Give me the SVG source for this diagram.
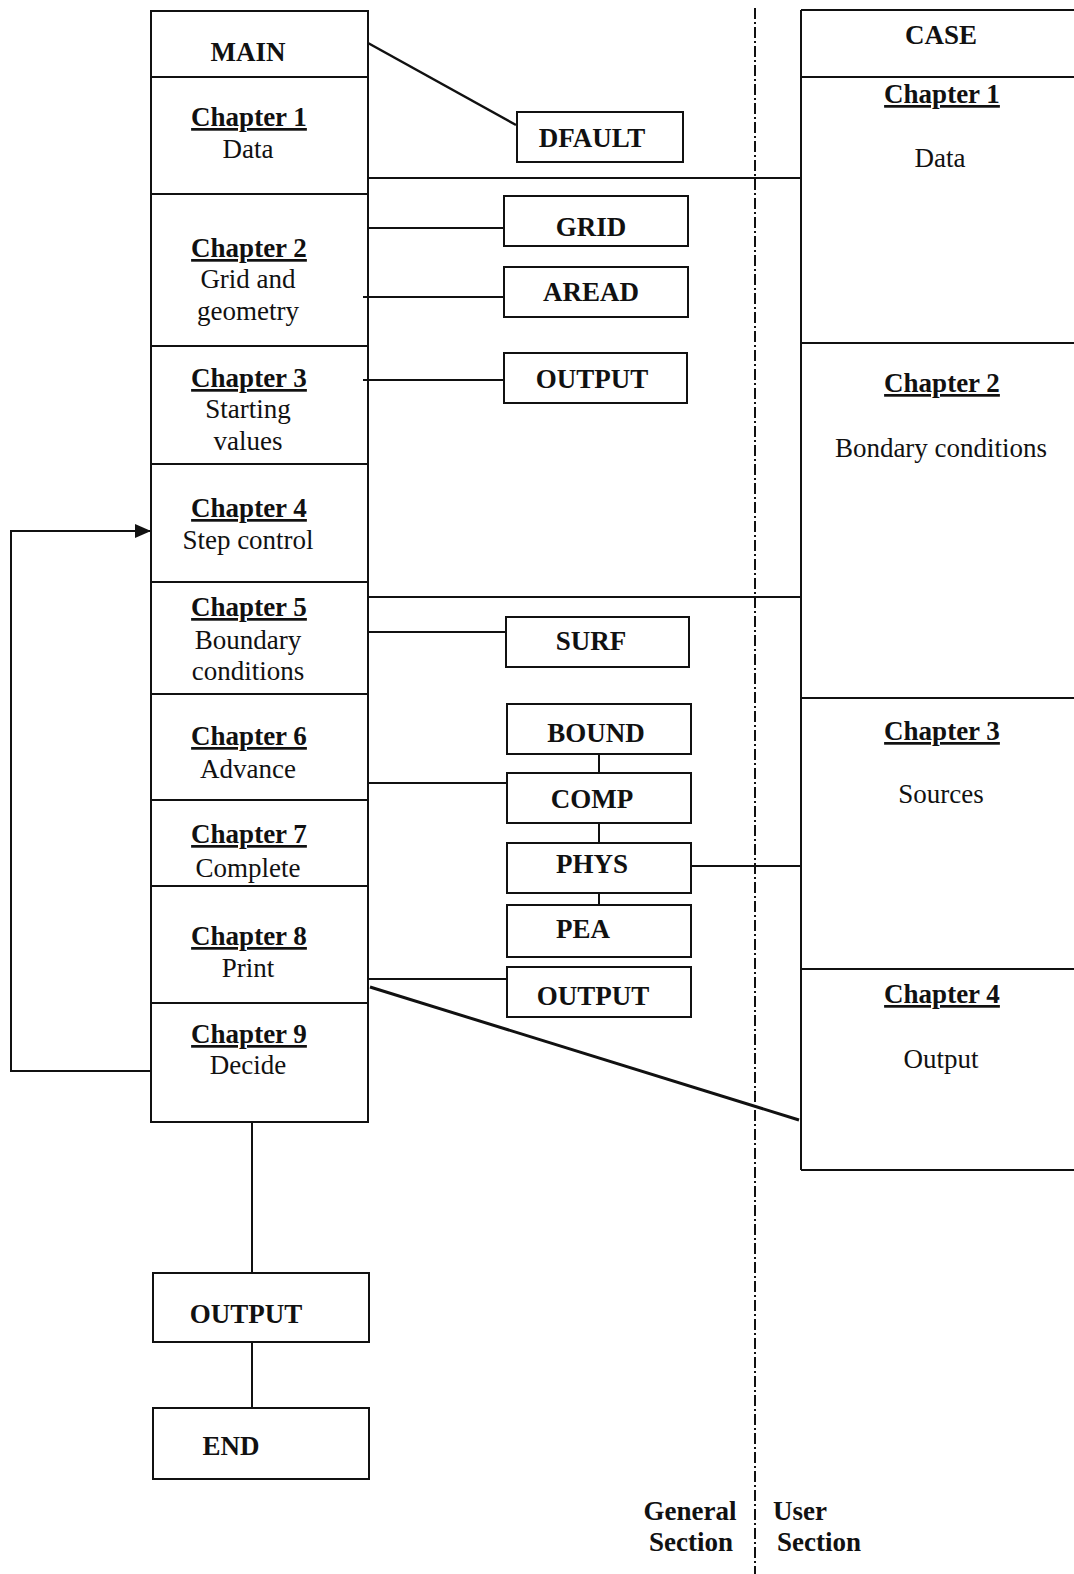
<svg xmlns="http://www.w3.org/2000/svg" width="1074" height="1574" viewBox="0 0 1074 1574">
<style>
  .bx{fill:none;stroke:#111;stroke-width:2}
  .ln{fill:none;stroke:#111;stroke-width:2}
  .mid{fill:none;stroke:#111;stroke-width:2.5}
  .thk{fill:none;stroke:#111;stroke-width:3}
  .dash{fill:none;stroke:#111;stroke-width:2;stroke-dasharray:11 3 2 3}
  text{font-family:"Liberation Serif","Times New Roman",serif;font-size:27px;fill:#111;text-anchor:middle}
  .b{font-weight:bold}
  .u{font-weight:bold;text-decoration:underline}
</style>
<defs>
  <marker id="arr" markerWidth="16" markerHeight="14" refX="15" refY="7" orient="auto" markerUnits="userSpaceOnUse">
    <path d="M0,0 L16,7 L0,14 Z" fill="#111"/>
  </marker>
</defs>
<rect width="1074" height="1574" fill="#fff"/>

<g id="connectors">
  <line class="dash" x1="755" y1="8" x2="755" y2="1574"/>
  <line class="mid" x1="368" y1="43" x2="516" y2="125"/>
  <line class="ln" x1="368" y1="178" x2="801" y2="178"/>
  <line class="ln" x1="368" y1="228" x2="504" y2="228"/>
  <line class="ln" x1="363" y1="297" x2="504" y2="297"/>
  <line class="ln" x1="363" y1="380" x2="504" y2="380"/>
  <line class="ln" x1="368" y1="597" x2="801" y2="597"/>
  <line class="ln" x1="368" y1="632" x2="506" y2="632"/>
  <line class="ln" x1="368" y1="783" x2="507" y2="783"/>
  <line class="ln" x1="599" y1="754" x2="599" y2="773"/>
  <line class="ln" x1="599" y1="823" x2="599" y2="843"/>
  <line class="ln" x1="599" y1="893" x2="599" y2="905"/>
  <line class="ln" x1="691" y1="866" x2="801" y2="866"/>
  <line class="ln" x1="368" y1="979" x2="507" y2="979"/>
  <line class="thk" x1="370" y1="987" x2="799" y2="1120"/>
  <polyline class="ln" points="151,1071 11,1071 11,531 150,531" marker-end="url(#arr)"/>
  <line class="ln" x1="252" y1="1122" x2="252" y2="1273"/>
  <line class="ln" x1="252" y1="1342" x2="252" y2="1408"/>
</g>

<g id="main-column">
  <rect class="bx" x="151" y="11" width="217" height="1111"/>
  <line class="ln" x1="151" y1="77" x2="368" y2="77"/>
  <line class="ln" x1="151" y1="194" x2="368" y2="194"/>
  <line class="ln" x1="151" y1="346" x2="368" y2="346"/>
  <line class="ln" x1="151" y1="464" x2="368" y2="464"/>
  <line class="ln" x1="151" y1="582" x2="368" y2="582"/>
  <line class="ln" x1="151" y1="694" x2="368" y2="694"/>
  <line class="ln" x1="151" y1="800" x2="368" y2="800"/>
  <line class="ln" x1="151" y1="886" x2="368" y2="886"/>
  <line class="ln" x1="151" y1="1003" x2="368" y2="1003"/>
</g>
<g id="main"><text class="b" x="248" y="61">MAIN</text></g>
<g id="main-ch1"><text class="u" x="249" y="126">Chapter 1</text><text x="248" y="158">Data</text></g>
<g id="main-ch2"><text class="u" x="249" y="257">Chapter 2</text><text x="248" y="288">Grid and</text><text x="248" y="320">geometry</text></g>
<g id="main-ch3"><text class="u" x="249" y="387">Chapter 3</text><text x="248" y="418">Starting</text><text x="248" y="450">values</text></g>
<g id="main-ch4"><text class="u" x="249" y="517">Chapter 4</text><text x="248" y="549">Step control</text></g>
<g id="main-ch5"><text class="u" x="249" y="616">Chapter 5</text><text x="248" y="649">Boundary</text><text x="248" y="680">conditions</text></g>
<g id="main-ch6"><text class="u" x="249" y="745">Chapter 6</text><text x="248" y="778">Advance</text></g>
<g id="main-ch7"><text class="u" x="249" y="843">Chapter 7</text><text x="248" y="877">Complete</text></g>
<g id="main-ch8"><text class="u" x="249" y="945">Chapter 8</text><text x="248" y="977">Print</text></g>
<g id="main-ch9"><text class="u" x="249" y="1043">Chapter 9</text><text x="248" y="1074">Decide</text></g>

<g id="dfault"><rect class="bx" x="517" y="112" width="166" height="50"/><text class="b" x="592" y="147">DFAULT</text></g>
<g id="grid"><rect class="bx" x="504" y="196" width="184" height="50"/><text class="b" x="591" y="236">GRID</text></g>
<g id="aread"><rect class="bx" x="504" y="267" width="184" height="50"/><text class="b" x="591" y="301">AREAD</text></g>
<g id="output1"><rect class="bx" x="504" y="353" width="183" height="50"/><text class="b" x="592" y="388">OUTPUT</text></g>
<g id="surf"><rect class="bx" x="506" y="617" width="183" height="50"/><text class="b" x="591" y="650">SURF</text></g>
<g id="bound"><rect class="bx" x="507" y="704" width="184" height="50"/><text class="b" x="596" y="742">BOUND</text></g>
<g id="comp"><rect class="bx" x="507" y="773" width="184" height="50"/><text class="b" x="592" y="808">COMP</text></g>
<g id="phys"><rect class="bx" x="507" y="843" width="184" height="50"/><text class="b" x="592" y="873">PHYS</text></g>
<g id="pea"><rect class="bx" x="507" y="905" width="184" height="52"/><text class="b" x="583" y="938">PEA</text></g>
<g id="output2"><rect class="bx" x="507" y="967" width="184" height="50"/><text class="b" x="593" y="1005">OUTPUT</text></g>

<g id="output3"><rect class="bx" x="153" y="1273" width="216" height="69"/><text class="b" x="246" y="1323">OUTPUT</text></g>
<g id="end"><rect class="bx" x="153" y="1408" width="216" height="71"/><text class="b" x="231" y="1455">END</text></g>

<g id="case-column">
  <line class="ln" x1="801" y1="10" x2="801" y2="1170"/>
  <line class="ln" x1="801" y1="10" x2="1074" y2="10"/>
  <line class="ln" x1="801" y1="77" x2="1074" y2="77"/>
  <line class="ln" x1="801" y1="343" x2="1074" y2="343"/>
  <line class="ln" x1="801" y1="698" x2="1074" y2="698"/>
  <line class="ln" x1="801" y1="969" x2="1074" y2="969"/>
  <line class="ln" x1="801" y1="1170" x2="1074" y2="1170"/>
</g>
<g id="case"><text class="b" x="941" y="44">CASE</text></g>
<g id="case-ch1"><text class="u" x="942" y="103">Chapter 1</text><text x="940" y="167">Data</text></g>
<g id="case-ch2"><text class="u" x="942" y="392">Chapter 2</text><text x="941" y="457">Bondary conditions</text></g>
<g id="case-ch3"><text class="u" x="942" y="740">Chapter 3</text><text x="941" y="803">Sources</text></g>
<g id="case-ch4"><text class="u" x="942" y="1003">Chapter 4</text><text x="941" y="1068">Output</text></g>

<g id="labels">
  <text class="b" x="690" y="1520">General</text>
  <text class="b" x="691" y="1551">Section</text>
  <text class="b" x="773" y="1520" style="text-anchor:start">User</text>
  <text class="b" x="777" y="1551" style="text-anchor:start">Section</text>
</g>
</svg>
